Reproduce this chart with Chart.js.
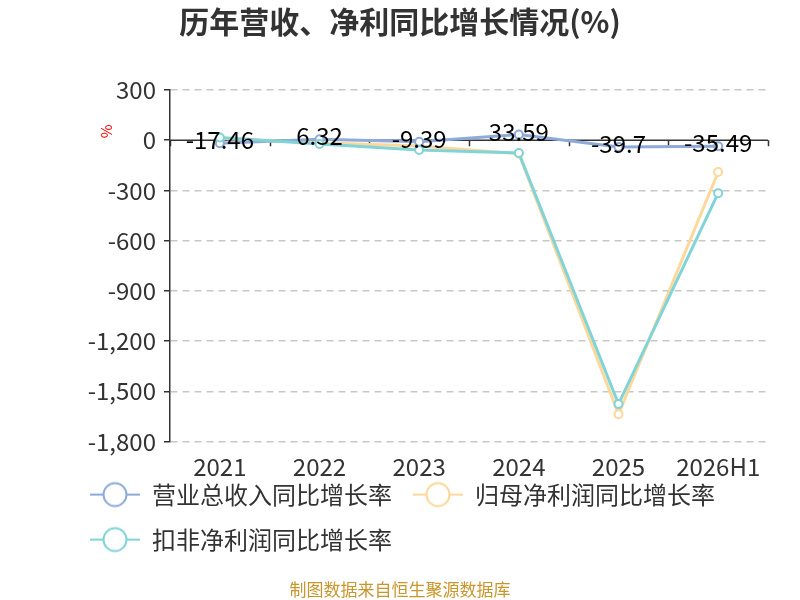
<!DOCTYPE html>
<html>
<head>
<meta charset="utf-8">
<style>
  html, body { margin: 0; padding: 0; background: #fff; }
</style>
<script src="https://cdn.jsdelivr.net/npm/chart.js"></script>
</head>
<body>
<canvas id="growthChart" width="800" height="600"></canvas>
<script>
const years = ["2021", "2022", "2023", "2024", "2025", "2026H1"];
const revenueGrowth = [-17.46, 6.32, -9.39, 33.59, -39.7, -35.49];
const netProfitGrowth = [10, -15, -35, -80, -1636, -190];
const deductedProfitGrowth = [16, -22, -58, -76, -1576, -316];
const yTicks = { min: -1800, max: 300, step: 300 };

const FONT = "'Noto Sans CJK SC', 'Noto Sans', sans-serif";
const BLUE = "#8eaadb";
const YELLOW = "#fdd89a";
const TEAL = "#80d4d8";

// legend marker: short line with a hollow circle
function legendMarker(color) {
  const c = document.createElement("canvas");
  c.width = 50;
  c.height = 28;
  const g = c.getContext("2d");
  g.strokeStyle = color;
  g.lineWidth = 2;
  g.beginPath();
  g.moveTo(0, 14);
  g.lineTo(50, 14);
  g.stroke();
  g.beginPath();
  g.arc(25, 14, 11.5, 0, Math.PI * 2);
  g.fillStyle = "#fff";
  g.fill();
  g.stroke();
  return c;
}

const axisExtras = {
  id: "axisExtras",
  afterLayout(chart) {
    // legend sits a bit right of / closer to the axis than the default box
    if (chart.legend) {
      chart.legend.left += 37;
      chart.legend.right += 37;
      chart.legend.top -= 17;
      chart.legend.bottom -= 17;
    }
  },
  beforeDatasetsDraw(chart) {
    const { ctx, chartArea, scales } = chart;
    const x = scales.x, y = scales.y;
    const y0 = y.getPixelForValue(0);
    ctx.save();
    ctx.strokeStyle = "#333";
    ctx.lineWidth = 1.5;
    ctx.beginPath();
    ctx.moveTo(chartArea.left, y0);
    ctx.lineTo(chartArea.right, y0);
    for (let i = 0; i <= years.length; i++) {
      const px = Math.round(x.getPixelForValue(i - 0.5)) + 0.5;
      ctx.moveTo(px, y0);
      ctx.lineTo(px, y0 + 6);
    }
    ctx.stroke();
    // unit label
    ctx.translate(chartArea.left - 64, y0 - 9);
    ctx.rotate(-Math.PI / 2);
    ctx.fillStyle = "#ff0000";
    ctx.font = "15px " + FONT;
    ctx.textAlign = "center";
    ctx.textBaseline = "middle";
    ctx.fillText("%", 0, 0);
    ctx.restore();
  },
  afterDatasetsDraw(chart) {
    const { ctx } = chart;
    const meta = chart.getDatasetMeta(0);
    ctx.save();
    ctx.fillStyle = "#000";
    ctx.font = "24px " + FONT;
    ctx.textAlign = "center";
    ctx.textBaseline = "middle";
    meta.data.forEach((pt, i) => {
      ctx.fillText(String(revenueGrowth[i]), pt.x, pt.y - 3);
    });
    ctx.restore();
  }
};

const ctx = document.getElementById("growthChart").getContext("2d");
new Chart(ctx, {
  type: "line",
  data: {
    labels: years,
    datasets: [
      {
        label: "营业总收入同比增长率",
        data: revenueGrowth,
        borderColor: BLUE,
        order: 1
      },
      {
        label: "归母净利润同比增长率",
        data: netProfitGrowth,
        borderColor: YELLOW,
        order: 2
      },
      {
        label: "扣非净利润同比增长率",
        data: deductedProfitGrowth,
        borderColor: TEAL,
        order: 0
      }
    ]
  },
  options: {
    responsive: false,
    animation: false,
    devicePixelRatio: 1,
    layout: { padding: { left: 32, right: 32, top: 2, bottom: 0 } },
    elements: {
      line: { borderWidth: 3, tension: 0 },
      point: { radius: 4, borderWidth: 2, backgroundColor: "#fff", hoverRadius: 4 }
    },
    scales: {
      x: {
        offset: true,
        afterFit(scale) { scale.height = 37; },
        grid: { display: false, drawTicks: false },
        border: { display: false },
        ticks: {
          color: "#333",
          font: { family: FONT, size: 24, lineHeight: 1.0 },
          padding: 13,
          maxRotation: 0
        }
      },
      y: {
        min: yTicks.min,
        max: yTicks.max,
        afterFit(scale) { scale.width = 138; },
        ticks: {
          stepSize: yTicks.step,
          color: "#333",
          font: { family: FONT, size: 24 },
          padding: 8
        },
        border: { display: true, color: "#333", width: 1.5, dash: [7, 5] },
        grid: {
          color: (c) => (c.tick && c.tick.value === 0 ? "rgba(0,0,0,0)" : "#c8c8c8"),
          lineWidth: 1.5,
          tickColor: "#333",
          tickLength: 6,
          tickBorderDash: []
        }
      }
    },
    plugins: {
      title: {
        display: true,
        text: "历年营收、净利同比增长情况(%)",
        color: "#333",
        font: { family: FONT, size: 30, weight: "bold" },
        padding: { top: 2, bottom: 50 }
      },
      subtitle: {
        display: true,
        position: "bottom",
        text: "制图数据来自恒生聚源数据库",
        color: "#c9962c",
        font: { family: FONT, size: 17 },
        padding: { top: 1, bottom: 0 }
      },
      legend: {
        position: "bottom",
        align: "start",
        labels: {
          usePointStyle: true,
          pointStyleWidth: 50,
          color: "#333",
          font: { family: FONT, size: 24 },
          padding: 21,
          sort: (a, b) => a.datasetIndex - b.datasetIndex,
          generateLabels(chart) {
            const items = Chart.defaults.plugins.legend.labels.generateLabels(chart);
            const colors = [BLUE, YELLOW, TEAL];
            items.forEach((it) => {
              it.pointStyle = legendMarker(colors[it.datasetIndex]);
            });
            return items;
          }
        }
      },
      tooltip: { enabled: false }
    }
  },
  plugins: [axisExtras]
});
</script>
</body>
</html>
